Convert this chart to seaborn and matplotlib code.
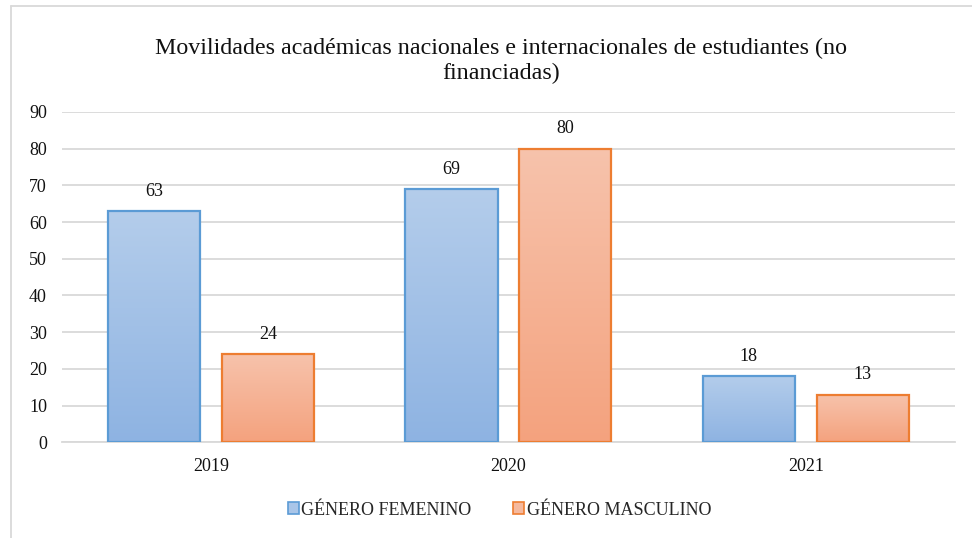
import matplotlib
matplotlib.use("Agg")
import matplotlib.pyplot as plt
import seaborn as sns
import numpy as np
import pandas as pd
from matplotlib.colors import LinearSegmentedColormap
from matplotlib.patches import Rectangle
from matplotlib.lines import Line2D

years = ["2019", "2020", "2021"]
femenino = [63, 69, 18]
masculino = [24, 80, 13]
series_names = ["GÉNERO FEMENINO", "GÉNERO MASCULINO"]
title = "Movilidades académicas nacionales e internacionales de estudiantes (no\nfinanciadas)"

df = pd.DataFrame({
    "year": years * 2,
    "value": femenino + masculino,
    "serie": [series_names[0]] * 3 + [series_names[1]] * 3,
})

sns.set_theme(style="white")
plt.rcParams['font.family'] = ['Liberation Serif', 'DejaVu Serif']

fig = plt.figure(figsize=(9.72, 5.38), dpi=100)
ax = fig.add_axes([0.064, 0.178, 0.918, 0.614])

edge_cols = ["#5B9BD5", "#ED7D31"]
grad = [("#B4CDEB", "#8EB3E2"), ("#F7C3AC", "#F4A27E")]

sns.barplot(data=df, x="year", y="value", hue="serie", ax=ax,
            palette=["#A2C0E7", "#F5B295"], width=0.765, gap=0.19, legend=False,
            zorder=3)

ax.set_ylim(0, 90)
ax.set_xlim(-0.5, 2.5)
ax.set_yticks(range(0, 91, 10))
ax.yaxis.grid(True, color="#D9D9D9", linewidth=1.3, zorder=0)
ax.set_axisbelow(True)
for s in ["top", "right", "left"]:
    ax.spines[s].set_visible(False)
ax.spines["bottom"].set_color("#D9D9D9")
ax.spines["bottom"].set_linewidth(1.3)
ax.tick_params(axis="both", length=0, labelsize=13, colors="#111111")
ax.tick_params(axis="y", pad=11)
ax.tick_params(axis="x", pad=11)
ax.set_xlabel("")
ax.set_ylabel("")

# gradient fills and labels
for i, cont in enumerate(ax.containers):
    top_c, bot_c = grad[i]
    cmap = LinearSegmentedColormap.from_list("g%d" % i, [bot_c, top_c])
    for bar in cont:
        x0, y0 = bar.get_x(), bar.get_y()
        w, h = bar.get_width(), bar.get_height()
        bar.set_facecolor("none")
        bar.set_edgecolor(edge_cols[i])
        bar.set_linewidth(1.6)
        g = np.linspace(0, 1, 256).reshape(-1, 1)
        im = ax.imshow(g, extent=[x0, x0 + w, y0, y0 + h], origin="lower",
                       cmap=cmap, aspect="auto", zorder=2.5)
        im.set_clip_path(bar)
        ax.annotate(f"{int(h)}", (x0 + w / 2, y0 + h), xytext=(0, 8),
                    textcoords="offset points", ha="center", va="bottom",
                    fontsize=13, color="#111111")

ax.set_xlim(-0.5, 2.5)
ax.set_ylim(0, 90)

fig.text(0.515, 0.887, title, ha="center", va="center", fontsize=17.3,
         color="#111111", linespacing=1.22)

handles = [Rectangle((0, 0), 1, 1, facecolor=c, edgecolor=e, linewidth=1.2)
           for c, e in zip(["#A9C5E8", "#F5B99E"], edge_cols)]
fig.legend(handles, series_names, loc="center", bbox_to_anchor=(0.514, 0.052),
           ncol=2, frameon=False, fontsize=13, handlelength=0.62,
           handleheight=0.62, handletextpad=0.15, columnspacing=2.3)

# outer chart frame (left & top visible)
fig.add_artist(Line2D([0.011, 0.011], [0, 0.988], color="#D9D9D9", lw=1.3,
                      transform=fig.transFigure))
fig.add_artist(Line2D([0.011, 1.0], [0.988, 0.988], color="#D9D9D9", lw=1.3,
                      transform=fig.transFigure))

fig.savefig("out.png", dpi=100)
